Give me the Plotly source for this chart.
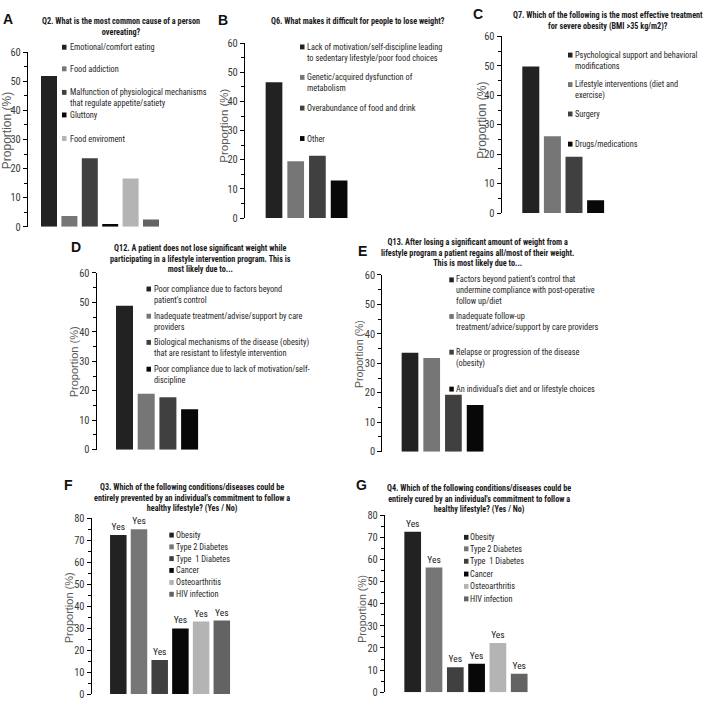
import plotly.graph_objects as go

W, H = 709, 706

# ---------------- DATA ----------------
q2_labels = ["Emotional/comfort eating", "Food addiction",
             "Malfunction of physiological mechanisms<br>that regulate appetite/satiety",
             "Gluttony", "Food enviroment", "Other"]
q2_values = [51.8, 3.7, 23.6, 1.0, 16.6, 2.5]

q6_labels = ["Lack of motivation/self-discipline leading<br>to sedentary lifestyle/poor food choices",
             "Genetic/acquired dysfunction of<br>metabolism",
             "Overabundance of food and drink", "Other"]
q6_values = [46.6, 19.5, 21.4, 12.9]

q7_labels = ["Psychological support and behavioral<br>modifications",
             "Lifestyle interventions (diet and<br>exercise)", "Surgery", "Drugs/medications"]
q7_values = [49.8, 26.1, 19.1, 4.4]

q12_labels = ["Poor compliance due to factors beyond<br>patient's control",
              "Inadequate treatment/advise/support by care<br>providers",
              "Biological mechanisms of the disease (obesity)<br>that are resistant to lifestyle intervention",
              "Poor compliance due to lack of motivation/self-<br>discipline"]
q12_values = [48.9, 19.0, 17.8, 13.7]

q13_labels = ["Factors beyond patient's control that<br>undermine compliance with post-operative<br>follow up/diet",
              "Inadequate follow-up<br>treatment/advice/support by care providers",
              "Relapse or progression of the disease<br>(obesity)",
              "An individual's diet and or lifestyle choices"]
q13_values = [33.6, 31.8, 19.3, 15.8]

conditions = ["Obesity", "Type 2 Diabetes", "Type  1 Diabetes", "Cancer", "Osteoarthritis", "HIV infection"]
q3_values = [72.4, 75.1, 15.5, 29.9, 33.0, 33.5]
q4_values = [72.6, 56.4, 11.3, 12.9, 22.2, 8.3]
answer_label = "Yes"

titles = {
    "A": "Q2. What is the most common cause of a person<br>overeating?",
    "B": "Q6. What makes it difficult for people to lose weight?",
    "C": "Q7. Which of the following is the most effective treatment<br>for severe obesity (BMI >35 kg/m2)?",
    "D": "Q12. A patient does not lose significant weight while<br>participating in a lifestyle intervention program. This is<br>most likely due to...",
    "E": "Q13. After losing a significant amount of weight from a<br>lifestyle program a patient regains all/most of their weight.<br>This is most likely due to...",
    "F": "Q3. Which of the following conditions/diseases could be<br>entirely prevented by an individual's commitment to follow a<br>healthy lifestyle? (Yes / No)",
    "G": "Q4. Which of the following conditions/diseases could be<br>entirely cured by an individual's commitment to follow a<br>healthy lifestyle? (Yes / No)",
}
y_title = "Proportion (%)"

# ---------------- STYLE / LAYOUT ----------------
C1, C2, C3, C4, C5, C6 = "#222222", "#767676", "#404040", "#080808", "#b4b4b4", "#636363"
NARROW = "Roboto Condensed, Liberation Sans Narrow, sans-serif"
SANS = "Liberation Sans, Arial, sans-serif"

panels = [
    dict(letter="A", labels=q2_labels, values=q2_values, colors=[C1, C2, C3, C4, C5, C6],
         legend_n=5, ymax=60, L=28, R=200, c0=49, pitch=20.4, bw=16, y0=225, ytop=47,
         title_xy=(121, 20.5), letter_xy=(8, 13), ytitle_xy=(6.5, 127), ytitle_size=12,
         sq_x=62, tx_x=68, leg_y=[42, 64, 88, 111, 135], text=False),
    dict(letter="B", labels=q6_labels, values=q6_values, colors=[C1, C2, C3, C4],
         legend_n=4, ymax=60, L=245, R=420, c0=274, pitch=21.7, bw=16.7, y0=216, ytop=38,
         title_xy=(358, 15), letter_xy=(223, 14), ytitle_xy=(224, 122), ytitle_size=11.5,
         sq_x=300, tx_x=305, leg_y=[41.7, 72.7, 104, 135], text=False),
    dict(letter="C", labels=q7_labels, values=q7_values, colors=[C1, C2, C3, C4],
         legend_n=4, ymax=60, L=501.7, R=700, c0=530.8, pitch=21.6, bw=17, y0=211, ytop=31,
         title_xy=(608, 15.5), letter_xy=(478, 8), ytitle_xy=(482, 117), ytitle_size=12,
         sq_x=568, tx_x=573, leg_y=[50, 80, 110, 140.7], text=False),
    dict(letter="D", labels=q12_labels, values=q12_values, colors=[C1, C2, C3, C4],
         legend_n=4, ymax=60, L=96.7, R=330, c0=124.5, pitch=21.7, bw=17, y0=452, ytop=272,
         title_xy=(200, 257.3), letter_xy=(76, 246), ytitle_xy=(74, 363), ytitle_size=11,
         sq_x=146.5, tx_x=151.7, leg_y=[288.3, 316, 342.7, 370], text=False),
    dict(letter="E", labels=q13_labels, values=q13_values, colors=[C1, C2, C3, C4],
         legend_n=4, ymax=60, L=382.3, R=620, c0=410, pitch=21.7, bw=16.7, y0=454, ytop=274,
         title_xy=(478, 251), letter_xy=(362, 250), ytitle_xy=(359.5, 355), ytitle_size=10.5,
         sq_x=449.3, tx_x=454.3, leg_y=[279, 316.3, 352.7, 390.3], text=False),
    dict(letter="F", labels=conditions, values=q3_values, colors=[C1, C2, C3, C4, C5, C6],
         legend_n=6, ymax=80, L=91.7, R=300, c0=118.3, pitch=20.7, bw=16.5, y0=701, ytop=522,
         title_xy=(192, 501), letter_xy=(68.3, 488.3), ytitle_xy=(68.5, 613), ytitle_size=11,
         sq_x=169.3, tx_x=174, leg_y=[539, 551, 563, 575, 587.3, 599.3], text=True),
    dict(letter="G", labels=conditions, values=q4_values, colors=[C1, C2, C3, C4, C5, C6],
         legend_n=6, ymax=80, L=385, R=600, c0=412.7, pitch=21.3, bw=16.7, y0=699, ytop=519,
         title_xy=(479, 502.5), letter_xy=(361, 488), ytitle_xy=(362, 614), ytitle_size=10.5,
         sq_x=464, tx_x=468.3, leg_y=[541.3, 553, 565.7, 578.7, 591.3, 604], text=True),
]


def xp(px):
    return px / W


def yp(py):
    return 1 - py / H


fig = go.Figure()
annotations = []
shapes = []
layout = {}

TITLE_SIZE = 8.2
LEG_SIZE = 8.3
LH = 1.3 * LEG_SIZE

for k, p in enumerate(panels, start=1):
    xa = "x" if k == 1 else f"x{k}"
    ya = "y" if k == 1 else f"y{k}"
    n = len(p["values"])
    fig.add_trace(go.Bar(
        x=list(range(n)), y=p["values"], xaxis=xa, yaxis=ya,
        width=[p["bw"] / p["pitch"]] * n,
        marker=dict(color=p["colors"], line=dict(width=0)),
        hovertext=[lab.replace("<br>", " ") for lab in p["labels"]],
        text=[answer_label] * n if p["text"] else None,
        textposition="outside" if p["text"] else None,
        textfont=dict(family=NARROW, size=9.5, color="#222222"),
        cliponaxis=False, showlegend=False,
    ))
    layout["xaxis" if k == 1 else f"xaxis{k}"] = dict(
        domain=[xp(p["L"]), xp(p["R"])],
        range=[(p["L"] - p["c0"]) / p["pitch"], (p["R"] - p["c0"]) / p["pitch"]],
        anchor=ya, visible=False, fixedrange=True,
    )
    layout["yaxis" if k == 1 else f"yaxis{k}"] = dict(
        domain=[yp(p["y0"]), yp(p["ytop"])], range=[0, p["ymax"]], anchor=xa,
        showline=True, linecolor="#000000", linewidth=1.2,
        ticks="outside", ticklen=4, tickwidth=1, tickcolor="#000000",
        tick0=0, dtick=10, showgrid=False, zeroline=False,
        minor=dict(ticks="outside", dtick=5, ticklen=3, tickwidth=1, tickcolor="#000000", showgrid=False),
        tickfont=dict(family=NARROW, size=10.5, color="#3a3a3a"),
        fixedrange=True,
    )
    lx, ly = p["letter_xy"]
    annotations.append(dict(text=f"<b>{p['letter']}</b>", x=xp(lx), y=yp(ly), xref="paper", yref="paper",
                            xanchor="center", yanchor="middle", showarrow=False,
                            font=dict(family=SANS, size=14, color="#111111")))
    tx, ty = p["title_xy"]
    annotations.append(dict(text=f"<b>{titles[p['letter']]}</b>", x=xp(tx), y=yp(ty), xref="paper",
                            yref="paper", xanchor="center", yanchor="middle", align="center",
                            showarrow=False, font=dict(family=NARROW, size=TITLE_SIZE, color="#1a1a1a")))
    yx, yy = p["ytitle_xy"]
    annotations.append(dict(text=y_title, x=xp(yx), y=yp(yy), xref="paper", yref="paper",
                            xanchor="center", yanchor="middle", textangle=-90, showarrow=False,
                            font=dict(family=SANS, size=p["ytitle_size"], color="#595959")))
    for i in range(p["legend_n"]):
        lab = p["labels"][i]
        nl = lab.count("<br>") + 1
        cy = p["leg_y"][i]
        shapes.append(dict(type="rect", xref="paper", yref="paper",
                           x0=xp(p["sq_x"]), x1=xp(p["sq_x"] + 4.5),
                           y0=yp(cy + 2.5), y1=yp(cy - 2.5),
                           fillcolor=p["colors"][i], line=dict(width=0)))
        annotations.append(dict(text=lab, x=xp(p["tx_x"]), y=yp(cy + (nl - 1) * LH / 2),
                                xref="paper", yref="paper", xanchor="left", yanchor="middle",
                                align="left", showarrow=False,
                                font=dict(family=NARROW, size=LEG_SIZE, color="#262626")))

fig.update_layout(
    width=W, height=H, margin=dict(l=0, r=0, t=0, b=0),
    paper_bgcolor="white", plot_bgcolor="white", showlegend=False,
    annotations=annotations, shapes=shapes, **layout,
)

fig.write_html("out.html")
